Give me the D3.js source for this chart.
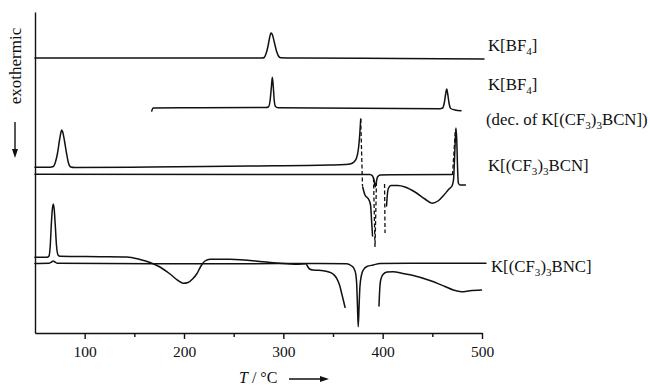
<!DOCTYPE html>
<html>
<head>
<meta charset="utf-8">
<script src="https://cdn.jsdelivr.net/npm/d3@7"></script>
<style>
  html, body { margin: 0; padding: 0; background: #fff; }
  svg { display: block; font-family: "Liberation Serif", "Times New Roman", serif; }
</style>
</head>
<body>
<svg id="chart" width="650" height="387"></svg>
<script>
// DSC traces: temperature T (°C) against heat flow (arbitrary units, traces stacked with offsets).
// Each trace is a list of [T, signal] pairs.

// K[BF4] reference
const bf4Trace = [
  [50, 275], [278.5, 275], [280.8, 275.5], [282.5, 279], [284.6, 287], [286.1, 295],
  [287.6, 300], [289.1, 298], [291.1, 290], [293.1, 282], [295.1, 277], [297.2, 275.3],
  [316.8, 275], [417.4, 274.5], [502, 274]
];

// K[BF4] formed by decomposition of K[(CF3)3BCN]
const bf4DecTrace = [
  [167.5, 222], [168.8, 225], [216.1, 225.3], [282.5, 225.5], [284.9, 226], [286.6, 232],
  [287.9, 245], [288.9, 255.7], [289.9, 246], [290.9, 232], [292.1, 226.5], [294.6, 225.3],
  [457.7, 224.3], [460.4, 225], [462.2, 231], [463.4, 239], [464.5, 244], [465.5, 239],
  [466.8, 230], [468.5, 224.5], [472.8, 223], [478.9, 222.3]
];

// K[(CF3)3BCN], first run (solid parts)
const bcnRunA = [
  [50, 165.7], [65.1, 165.8], [68.4, 166.5], [70.6, 171], [72.7, 180], [74.7, 193],
  [76.2, 201], [76.9, 203], [77.9, 201], [79.7, 192], [81.7, 180], [83.7, 170],
  [85.9, 166], [90.3, 165.5], [165.8, 166], [266.4, 167], [347, 168], [362.1, 168.5],
  [367.1, 169], [371.1, 171], [373.7, 175], [375.7, 185], [376.9, 198], [377.9, 214]
];
const bcnRunB = [
  [379.9, 146], [382.2, 138], [385.7, 134], [387.8, 128], [388.8, 113], [389.8, 97]
];
const bcnRunC = [
  [403.9, 127], [404.7, 138], [405.9, 145], [408.4, 147.5], [415.4, 147.5], [422.5, 146],
  [432.5, 141], [442.6, 134], [449.7, 129.7], [455.7, 132], [461.7, 138], [466.8, 144],
  [469.8, 147], [471.3, 153], [472.3, 173], [473.1, 193], [473.8, 205], [474.6, 193],
  [475.3, 168], [476.2, 150], [477.8, 148], [483.3, 148]
];
// K[(CF3)3BCN], second trace
const bcnBase = [
  [50, 158.7], [387.3, 158.5], [389.8, 157], [391.3, 153], [392.4, 146], [393.4, 150],
  [394.8, 156], [397.3, 158], [407.4, 158.3], [469.8, 158.5]
];
// K[(CF3)3BCN], dashed connecting strokes
const bcnDashed = [
  [[377.9, 214], [379.7, 147]],
  [[390.8, 155], [392.3, 86], [393.8, 153]],
  [[401.9, 149], [402.4, 100]],
  [[470.3, 158], [473.3, 204]]
];

// K[(CF3)3BNC], first run (two solid parts)
const bncRunA = [
  [50, 75.7], [62.1, 75.7], [64.1, 77], [65.4, 88], [66.4, 108], [67.4, 123], [68.4, 129],
  [69.4, 123], [70.4, 108], [71.6, 88], [73.2, 78], [75.2, 76.7], [115.4, 76.3],
  [142.3, 76], [155.7, 73.5], [165.8, 70.5], [175.8, 66], [185.9, 59], [194, 52.5],
  [199.3, 49.7], [204, 50.5], [209.1, 54.5], [213.1, 59.5], [217.1, 67], [221.1, 72],
  [226.2, 73.7], [246.3, 73.7], [279.8, 71.3], [296.6, 69.7], [313.5, 68.7], [322.8, 69.2],
  [324.8, 66], [326.8, 63.7], [330.2, 63], [340.2, 62.3], [345, 61.3], [350, 59],
  [353.7, 54.7], [356.6, 48], [358.7, 39.7], [360.5, 32.5], [362.1, 25.7]
];
const bncRunB = [
  [396.3, 27], [397, 43], [398, 53], [400.3, 58.5], [404.4, 61], [410.4, 61.3],
  [420.5, 59.5], [430.8, 57.5], [447.6, 52.5], [462.7, 46.5], [471.1, 43], [479.5, 41.3],
  [487.9, 42.3], [499.5, 43]
];
// K[(CF3)3BNC], second trace
const bncBase = [
  [50, 69.5], [64.1, 69.7], [66.6, 71], [68.4, 72], [70.1, 71], [72.6, 69.7], [216.1, 69.2],
  [316.8, 69.5], [363.8, 69.2], [368.1, 67.5], [371.1, 64.5], [372.9, 59], [373.9, 48],
  [374.6, 28], [375.4, 6.3], [376.3, 28], [377.1, 46.3], [378.7, 58], [380.5, 63],
  [384.2, 66.5], [390.6, 68], [397.3, 69.5], [447.6, 69.7], [504, 69.7]
];

const majorTicks = [100, 200, 300, 400, 500];
const minorTicks = [150, 250, 350, 450];
const seriesNames = ["K[BF_4]", "K[BF_4]", "(dec. of K[(CF_3)_3BCN])", "K[(CF_3)_3BCN]", "K[(CF_3)_3BNC]"];
const xTitle = ["T", " / °C"];
const yTitle = "exothermic";

// ---- drawing ----
const svg = d3.select("#chart");
const x = d3.scaleLinear().domain([50, 500]).range([35, 482]);
const y = d3.scaleLinear().domain([0, 321]).range([333, 12]);
const line = d3.line().x(d => x(d[0])).y(d => y(d[1])).curve(d3.curveMonotoneX);
const lineRaw = d3.line().x(d => x(d[0])).y(d => y(d[1]));

const ink = "#111";

// axes
const gx = svg.append("g").attr("transform", `translate(0,${y(0)})`)
  .call(d3.axisBottom(x).tickValues(majorTicks).tickSize(6).tickSizeOuter(0).tickPadding(7));
svg.append("g").attr("transform", `translate(0,${y(0)})`)
  .call(d3.axisBottom(x).tickValues(minorTicks).tickSize(4).tickFormat(""))
  .select(".domain").remove();
svg.append("g").attr("transform", `translate(${x(50)},0)`)
  .call(d3.axisLeft(y).tickValues([]).tickSizeOuter(0));
svg.selectAll(".domain, .tick line").attr("stroke", ink).attr("stroke-width", 1.4);
gx.selectAll(".tick text").attr("font-size", 15.5).attr("fill", ink)
  .attr("font-family", "Liberation Serif, serif");

// traces
const traces = svg.append("g").attr("fill", "none").attr("stroke", ink)
  .attr("stroke-width", 1.5).attr("stroke-linejoin", "round").attr("stroke-linecap", "round");
[bf4Trace, bf4DecTrace, bcnRunA, bcnRunB, bcnRunC, bcnBase, bncRunA, bncRunB, bncBase]
  .forEach(d => traces.append("path").attr("d", line(d)));
bcnDashed.forEach(d => traces.append("path").attr("d", lineRaw(d))
  .attr("stroke-dasharray", "4,2.5").attr("stroke-linecap", "butt").attr("stroke-width", 1.3));

// rich text with "_c" meaning subscript c
function richText(sel, str, size) {
  let sub = false;
  for (let i = 0; i < str.length; i++) {
    if (str[i] === "_" && i + 1 < str.length) {
      sel.append("tspan").attr("dy", 4).attr("font-size", size * 0.66).text(str[i + 1]);
      sub = true; i++;
    } else {
      let j = i;
      while (j < str.length && str[j] !== "_") j++;
      sel.append("tspan").attr("dy", sub ? -4 : 0).attr("font-size", size).text(str.slice(i, j));
      sub = false; i = j - 1;
    }
  }
}

// series labels
const labelX = [488, 488, 486, 488, 491];
const labelY = [51, 90, 124.5, 171, 272];
seriesNames.forEach((s, i) => {
  const t = svg.append("text").attr("x", labelX[i]).attr("y", labelY[i]).attr("fill", ink);
  richText(t, s, 16.8);
});

// x title with arrow
const xt = svg.append("text").attr("x", 239).attr("y", 383).attr("font-size", 16).attr("fill", ink);
xt.append("tspan").attr("font-style", "italic").text(xTitle[0]);
xt.append("tspan").text(xTitle[1]);
svg.append("line").attr("x1", 289).attr("x2", 322).attr("y1", 379).attr("y2", 379)
  .attr("stroke", ink).attr("stroke-width", 1.4);
svg.append("path").attr("d", "M329,379 L320,376 L320,382 Z").attr("fill", ink);

// y title with downward arrow
svg.append("text").attr("transform", "translate(21,66) rotate(-90)")
  .attr("text-anchor", "middle").attr("font-size", 17).attr("fill", ink).text(yTitle);
svg.append("line").attr("x1", 15).attr("x2", 15).attr("y1", 122).attr("y2", 151)
  .attr("stroke", ink).attr("stroke-width", 1.4);
svg.append("path").attr("d", "M15,158 L12,149 L18,149 Z").attr("fill", ink);
</script>
</body>
</html>
